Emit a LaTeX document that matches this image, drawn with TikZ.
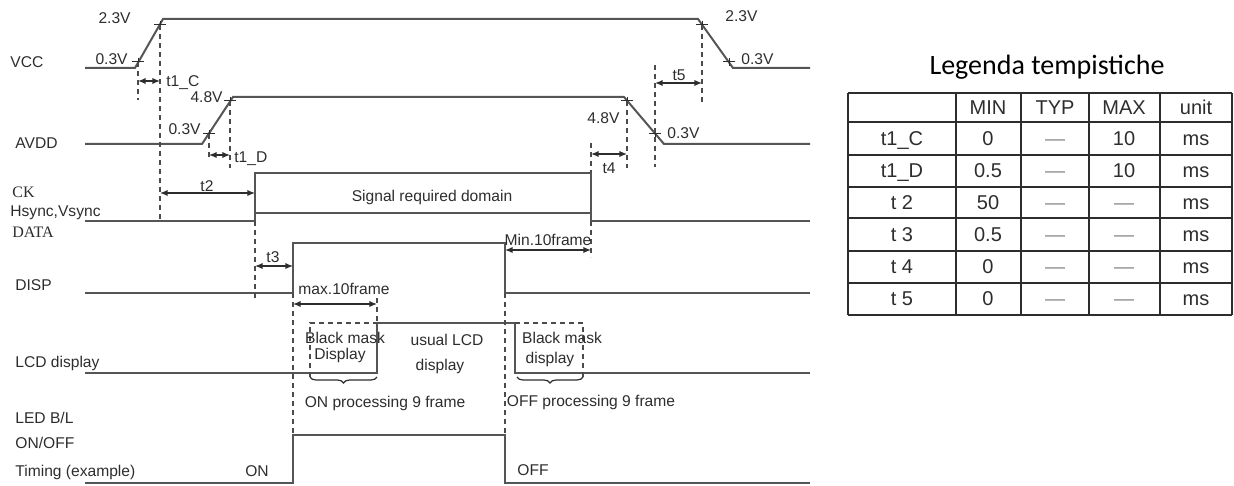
\documentclass[tikz,border=0pt]{standalone}
\usepackage{fontspec}
\setmainfont{Liberation Sans}
\newfontfamily\timesface{Liberation Serif}
\newfontfamily\calface{Carlito}
\usetikzlibrary{arrows.meta,decorations.pathreplacing}
\definecolor{wavegray}{RGB}{85, 85, 85}
\definecolor{guidegray}{RGB}{75, 75, 75}
\definecolor{inkgray}{RGB}{45, 45, 45}
\definecolor{dashgray}{RGB}{140, 140, 140}
\tikzset{
  wave/.style={draw=wavegray, line width=1pt},
  guide/.style={draw=guidegray, line width=0.6pt, dash pattern=on 2.5pt off 2pt},
  dimline/.style={draw=inkgray, line width=0.7pt, {Latex[length=3.8pt,width=3.2pt]}-{Latex[length=3.8pt,width=3.2pt]}},
  tickmark/.style={draw=inkgray, line width=0.5pt},
  curly/.style={draw=inkgray, line width=0.6pt, decorate, decoration={brace, mirror, amplitude=3pt}},
  grid/.style={draw=inkgray, line width=0.8pt},
  lbl/.style={inner sep=0pt, text=inkgray, font=\fontsize{7.8}{9}\selectfont},
  serif/.style={lbl, font=\timesface\fontsize{8}{9}\selectfont},
  cell/.style={inner sep=0pt, anchor=mid, text=inkgray, font=\fontsize{10}{12}\selectfont},
}

\begin{document}
\begin{tikzpicture}[x=0.5pt, y=-0.5pt]
            \useasboundingbox (0,0) rectangle (1234,486);
            \draw[wave] ( 85, 68) -- (135, 68) -- (163, 19) -- (698, 19) -- (733, 68) -- (810, 68);
            \draw[wave] ( 85,144) -- (202,144) -- (233, 97) -- (624, 97) -- (664,144) -- (810,144);
            \draw[wave] ( 85,221) -- (255,221) -- (255,173) -- (591,173) -- (591,221) -- (810,221);
            \draw[wave] (255,213) -- (591,213);
            \draw[wave] ( 85,293) -- (293,293) -- (293,243) -- (505,243) -- (505,293) -- (810,293);
            \draw[wave] ( 85,373) -- (377,373) -- (377,323) -- (515,323) -- (515,373) -- (810,373);
            \draw[wave] ( 85,483) -- (293,483) -- (293,435) -- (505,435) -- (505,483) -- (810,483);

            \foreach \p in {(138,62), (160,25), (209,134), (230,101), (702,25), (729,62), (627,101), (655,134)}
              \draw[tickmark] \p ++(-6,0) -- ++(12,0) \p ++(0,-4) -- ++(0,8);

            \draw[guide] (138, 62) -- (138,100);
            \draw[guide] (160, 25) -- (160,221);
            \draw[guide] (209,134) -- (209,160);
            \draw[guide] (230,101) -- (230,168);
            \draw[guide] (255,221) -- (255,298);
            \draw[guide] (293,293) -- (293,435);
            \draw[guide] (377,298) -- (377,323);
            \draw[guide] (505,293) -- (505,435);
            \draw[guide] (591,143) -- (591,173);
            \draw[guide] (591,221) -- (591,257);
            \draw[guide] (627,101) -- (627,168);
            \draw[guide] (655, 65) -- (655,167);
            \draw[guide] (702, 25) -- (702,103);
            \draw[guide] (310,377) -- (310,323) -- (377,323);
            \draw[guide] (515,323) -- (583,323) -- (583,377);
            \draw[curly] (310,377) -- (377,377);
            \draw[curly] (517,377) -- (583,377);

            \draw[dimline] (138, 81) -- (160, 81);
            \draw[dimline] (209,155) -- (230,155);
            \draw[dimline] (160,193) -- (255,193);
            \draw[dimline] (255,266) -- (293,266);
            \draw[dimline] (293,304) -- (377,304);
            \draw[dimline] (505,250) -- (591,250);
            \draw[dimline] (591,154) -- (627,154);
            \draw[dimline] (655, 83) -- (702, 83);

            \node[lbl, anchor=mid west]   (vccname)    at ( 10, 62) {VCC};
            \node[lbl, anchor=mid west]   (avddname)   at ( 15,143) {AVDD};
            \node[serif, anchor=mid west] (ckname)     at ( 12,192) {CK};
            \node[lbl, anchor=mid west]   (syncname)   at ( 10,211) {Hsync,Vsync};
            \node[serif, anchor=mid west] (dataname)   at ( 12,232) {DATA};
            \node[lbl, anchor=mid west]   (dispname)   at ( 15,285) {DISP};
            \node[lbl, anchor=mid west]   (lcdname)    at ( 15,362) {LCD display};
            \node[lbl, anchor=mid west]   (ledname)    at ( 15,418) {LED B/L};
            \node[lbl, anchor=mid west]   (onoffname)  at ( 15,443) {ON/OFF};
            \node[lbl, anchor=mid west]   (timingname) at ( 15,471) {Timing (example)};

            \node[lbl, anchor=mid east]   (vcchi)      at (131, 18) {2.3V};
            \node[lbl, anchor=mid east]   (vcclo)      at (128, 59) {0.3V};
            \node[lbl, anchor=mid east]   (avddhi)     at (223, 97) {4.8V};
            \node[lbl, anchor=mid east]   (avddlo)     at (201,129) {0.3V};
            \node[lbl, anchor=mid west]   (vcchioff)   at (725, 16) {2.3V};
            \node[lbl, anchor=mid west]   (vccloff)    at (741, 59) {0.3V};
            \node[lbl, anchor=mid west]   (avddhioff)  at (587,118) {4.8V};
            \node[lbl, anchor=mid west]   (avddloff)   at (667,133) {0.3V};

            \node[lbl, anchor=mid west]   (tonec)      at (166, 81) {t1\_C};
            \node[lbl, anchor=mid west]   (toned)      at (234,157) {t1\_D};
            \node[lbl]                    (ttwo)       at (207,186) {t2};
            \node[lbl]                    (tthree)     at (273,257) {t3};
            \node[lbl]                    (tfour)      at (609,168) {t4};
            \node[lbl]                    (tfive)      at (679, 75) {t5};

            \node[lbl]                    (domain)     at (432,197) {Signal required domain};
            \node[lbl]                    (minframe)   at (548,240) {Min.10frame};
            \node[lbl]                    (maxframe)   at (344,289) {max.10frame};
            \node[lbl]                    (maskon)     at (345,338) {Black mask};
            \node[lbl]                    (maskondisp) at (340,355) {Display};
            \node[lbl]                    (usual)      at (447,340) {usual LCD};
            \node[lbl]                    (usualdisp)  at (440,366) {display};
            \node[lbl]                    (onproc)     at (385,403) {ON processing 9 frame};
            \node[lbl]                    (maskoff)    at (562,338) {Black mask};
            \node[lbl]                    (maskoffdisp)at (550,359) {display};
            \node[lbl]                    (offproc)    at (591,402) {OFF processing 9 frame};
            \node[lbl]                    (ledon)      at (257,471) {ON};
            \node[lbl]                    (ledoff)     at (533,470) {OFF};

            \node[font=\calface\fontsize{14}{16}\selectfont, text=black, inner sep=0pt] (legtitle) at (1047,67) {Legenda tempistiche};
            \foreach \yy in {93,122,155,187,218,251,283,315}
              \draw[grid] (848,\yy) -- (1232,\yy);
            \foreach \xx in {848,956,1021,1089,1160,1232}
              \draw[grid] (\xx,93) -- (\xx,315);
            \node[cell] (hmin)  at ( 988,109) {MIN};
            \node[cell] (htyp)  at (1055,109) {TYP};
            \node[cell] (hmax)  at (1124,109) {MAX};
            \node[cell] (hunit) at (1196,109) {unit};
            \foreach \tname/\tmin/\tmax [count=\r] in {t1\_C/0/10, t1\_D/0.5/10, t 2/50/, t 3/0.5/, t 4/0/, t 5/0/}{
              \node[cell] (tname\r) at ( 902,108.5+32*\r) {\tname};
              \node[cell] (tmin\r)  at ( 988,108.5+32*\r) {\tmin};
              \node[cell, text=dashgray] (ttyp\r) at (1055,108.5+32*\r) {—};
              \node[cell] (tmax\r)  at (1124,108.5+32*\r) {\tmax};
              \node[cell] (tunit\r) at (1196,108.5+32*\r) {ms};
            }
            \foreach \r in {3,...,6}
              \node[cell, text=dashgray] (tmaxdash\r) at (1124,108.5+32*\r) {—};
\end{tikzpicture}
\end{document}
